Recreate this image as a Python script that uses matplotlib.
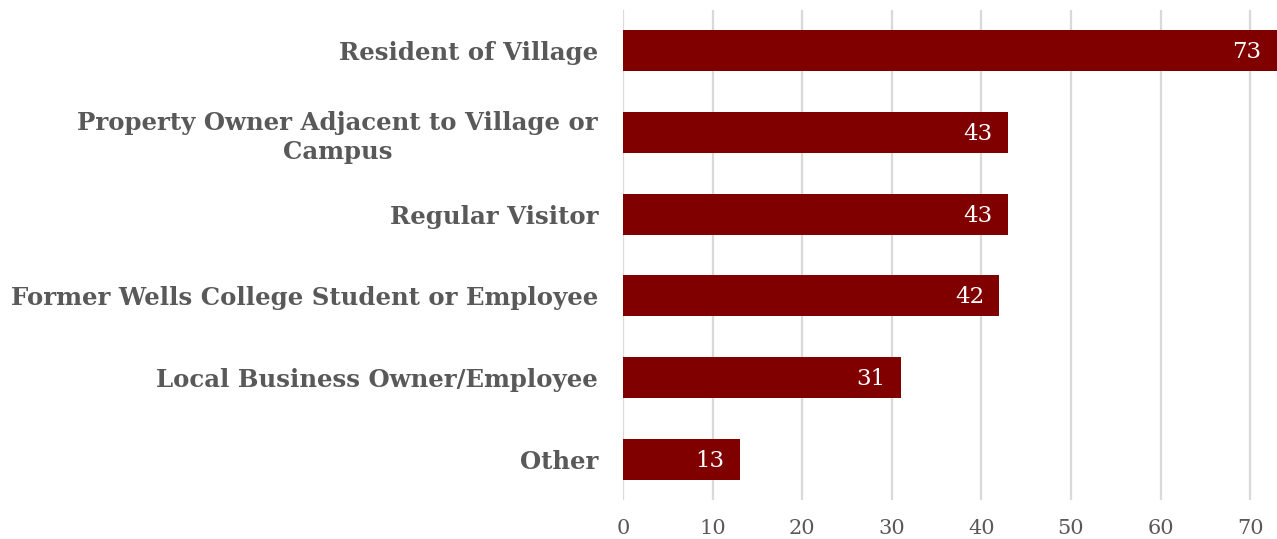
import matplotlib

matplotlib.use("Agg")
import matplotlib.pyplot as plt

categories = [
    "Resident of Village",
    "Property Owner Adjacent to Village or\nCampus",
    "Regular Visitor",
    "Former Wells College Student or Employee",
    "Local Business Owner/Employee",
    "Other",
]
counts = [73, 43, 43, 42, 31, 13]
x_ticks = [0, 10, 20, 30, 40, 50, 60, 70]

bar_color = "#800000"
text_gray = "#595959"
grid_gray = "#d9d9d9"
serif = ["DejaVu Serif"]

fig = plt.figure(figsize=(12.77, 5.39), dpi=100)
ax = fig.add_axes([0.4879, 0.0724, 0.5121, 0.909])

ypos = list(range(len(categories)))
bars = ax.barh(ypos, counts, height=0.5, color=bar_color, zorder=3)

for y, v in zip(ypos, counts):
    ax.annotate(str(v), xy=(v, y), xytext=(-11, -1), textcoords="offset points",
                ha="right", va="center", color="white", fontsize=16.5,
                family=serif, zorder=4)

ax.set_ylim(len(categories) - 0.5, -0.5)
ax.set_xlim(0, 73)
ax.set_yticks(ypos)
ax.set_yticklabels(categories, fontsize=17.6, fontweight="bold",
                   color=text_gray, family=serif, ha="right",
                   multialignment="center", linespacing=1.25)
ax.set_xticks(x_ticks)
ax.set_xticklabels([str(t) for t in x_ticks], fontsize=15,
                   color=text_gray, family=serif)
ax.tick_params(axis="both", length=0)
ax.tick_params(axis="y", pad=18)
ax.tick_params(axis="x", pad=14)

ax.grid(axis="x", color=grid_gray, linewidth=1.6, zorder=0)
for s in ax.spines.values():
    s.set_visible(False)

fig.savefig("out.png", dpi=100)
